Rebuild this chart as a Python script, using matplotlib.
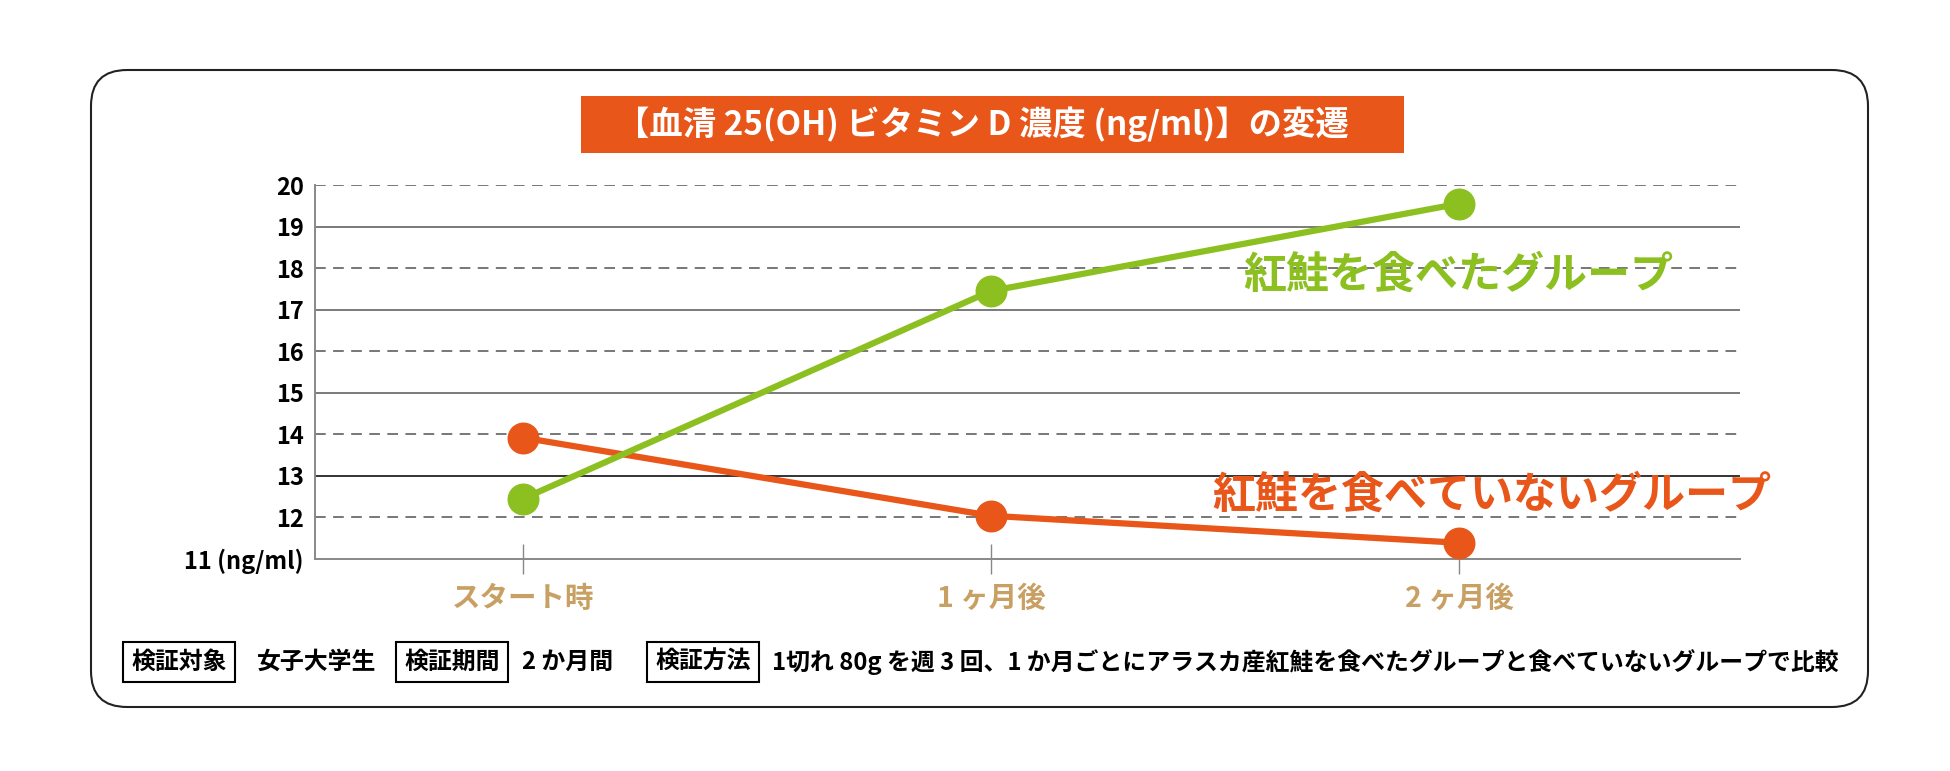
import matplotlib
matplotlib.use("Agg")
import matplotlib.pyplot as plt
from matplotlib.patches import FancyBboxPatch, Rectangle
import numpy as np

plt.rcParams['font.family'] = ['Noto Sans CJK JP', 'DejaVu Sans']

# data
periods = ["スタート時", "1 ヶ月後", "2 ヶ月後"]
salmon_group = [12.45, 17.45, 19.55]
no_salmon_group = [13.92, 12.04, 11.39]
y_ticks = [11, 12, 13, 14, 15, 16, 17, 18, 19, 20]
y_tick_labels = ["11 (ng/ml)", "12", "13", "14", "15", "16", "17", "18", "19", "20"]

title = "【血清 25(OH) ビタミン D 濃度 (ng/ml)】の変遷"
label_salmon = "紅鮭を食べたグループ"
label_no_salmon = "紅鮭を食べていないグループ"
note_texts = ["検証対象", "女子大学生", "検証期間", "2 か月間", "検証方法",
              "1切れ 80g を週 3 回、1 か月ごとにアラスカ産紅鮭を食べたグループと食べていないグループで比較"]
note_boxed = [True, False, True, False, True, False]

GREEN = "#8CC021"
ORANGE = "#E8561A"
TAN = "#C9A063"

W, H = 1950, 771
fig = plt.figure(figsize=(W / 100, H / 100), dpi=100)

# outer rounded frame (inches)
frame = FancyBboxPatch((0.91, 0.64), 18.68 - 0.91, 7.01 - 0.64,
                       boxstyle="round,pad=0,rounding_size=0.36",
                       transform=fig.dpi_scale_trans, fill=False,
                       edgecolor="#222222", linewidth=1.5)
fig.patches.append(frame)

# title box
fig.patches.append(Rectangle((5.81, 6.18), 8.23, 0.57, transform=fig.dpi_scale_trans,
                             facecolor=ORANGE, edgecolor="none"))
fig.text(9.82 / 19.5, 6.465 / 7.71, title, ha="center", va="center",
         color="white", fontsize=24, fontweight="bold")

# plot area: x 315..1740 px, y 185..559 px
ax = fig.add_axes([315 / W, (H - 559) / H, (1740 - 315) / W, (559 - 185) / H])
x = np.arange(len(periods))
ax.set_xlim(-(523 - 315) / 468, 2 + (1740 - 1459) / 468)
ax.set_ylim(11, 20)

for v in y_ticks[1:]:
    if v % 2 == 0:
        ax.axhline(v, color="#777777", lw=1.4, ls=(0, (5.5, 3.8)), zorder=1)
    else:
        ax.axhline(v, color="#333333" if v == 13 else "#7a7a7a", lw=1.4, zorder=1)

for s in ["top", "right"]:
    ax.spines[s].set_visible(False)
for s in ["left", "bottom"]:
    ax.spines[s].set_color("#888888")
    ax.spines[s].set_linewidth(1.4)

ax.plot(x, no_salmon_group, color=ORANGE, lw=4.5, marker="o", markersize=22,
        zorder=3, clip_on=False, solid_capstyle="round")
ax.plot(x, salmon_group, color=GREEN, lw=4.5, marker="o", markersize=22,
        zorder=4, clip_on=False, solid_capstyle="round")

ax.set_yticks(y_ticks)
ax.set_yticklabels(y_tick_labels, fontsize=17, fontweight="bold")
ax.tick_params(axis="y", length=0, pad=8)

ax.set_xticks(x)
ax.set_xticklabels(periods, fontsize=20.5, fontweight="bold", color=TAN)
ax.tick_params(axis="x", direction="inout", length=22, width=1, color="#888888", pad=8)

# series labels
ax.text(1.54, 17.85, label_salmon, color=GREEN, fontsize=31, fontweight="bold",
        ha="left", va="center", zorder=5)
ax.text(1.472, 12.55, label_no_salmon, color=ORANGE, fontsize=31, fontweight="bold",
        ha="left", va="center", zorder=5)

# footnote row
note_x = [131, 257, 404, 522, 655, 772]
ypos = (H - 662) / H
for xp, text, boxed in zip(note_x, note_texts, note_boxed):
    kw = dict(fontsize=17.2, fontweight="bold", color="black", ha="left", va="center")
    if boxed:
        kw["bbox"] = dict(boxstyle="square,pad=0.35", facecolor="white",
                          edgecolor="black", linewidth=1.5)
    fig.text(xp / W, ypos, text, **kw)

fig.savefig("out.png", dpi=100, facecolor="white")
